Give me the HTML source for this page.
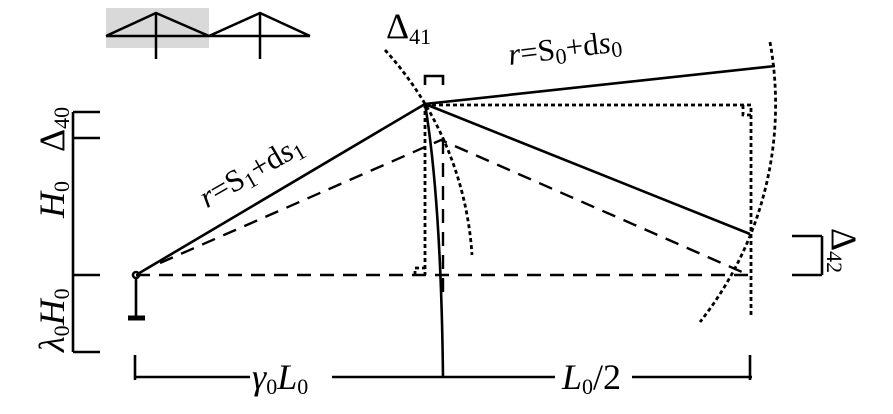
<!DOCTYPE html>
<html><head><meta charset="utf-8"><style>
html,body{margin:0;padding:0;background:#fff;width:893px;height:414px;overflow:hidden}
svg text{font-family:"Liberation Serif",serif;fill:#000}
.b{font-size:36px}
.s{font-size:22px}
.m{font-size:31px}
</style></head><body>
<svg width="893" height="414" viewBox="0 0 893 414" xmlns="http://www.w3.org/2000/svg">
<rect x="106" y="8" width="103" height="40" fill="#d9d9d9"/>
<g stroke="#000" stroke-width="2.5" fill="none">
<path d="M106 36H310M106 36L156 13L209 36L260 13L310 36M156 13V59M260 13V59"/>
</g>
<g stroke="#000" fill="none" stroke-width="2.6">
<path d="M136 275L425 104L775 66M425 104L750 234"/>
<path d="M425 104Q441 200 443 377"/>
<path d="M136 275V318"/>
<circle cx="136" cy="275" r="3" fill="#fff"/>
<path d="M128 318H145" stroke-width="5"/>
</g>
<g stroke="#000" fill="none" stroke-width="2.4" stroke-dasharray="14,9">
<path d="M136 275H750"/>
<path d="M160 263L441 140L742 272"/>
<path d="M443 140V300"/>
</g>
<g stroke="#000" fill="none" stroke-width="2.8" stroke-dasharray="4,3">
<path d="M425 105H751V317"/>
<path d="M743 105V115H751"/>
<path d="M425 104V275M415 275V268H425"/>
<path d="M385 50A336 336 0 0 1 472 255"/>
<path d="M770 42A351 351 0 0 1 700 322"/>
</g>
<g stroke="#000" fill="none" stroke-width="2.6">
<path d="M425 85V76H443V85"/>
<path d="M73 112V352M73 112H100M73 138H100M73 275H100M73 352H100"/>
<path d="M135 355V380M135 377H250M332 377H555M632 377H752M750 355V380"/>
<path d="M822 236V275M792 236H822M792 275H822"/>
</g>
<text x="386" y="38" class="b">Δ<tspan class="s" dy="6">41</tspan></text>
<text transform="translate(566,58) rotate(-7)" class="m" text-anchor="middle"><tspan font-style="italic">r</tspan>=S<tspan class="s" dy="5">0</tspan><tspan dy="-5">+d</tspan><tspan font-style="italic">s</tspan><tspan class="s" dy="5">0</tspan></text>
<text transform="translate(256,180) rotate(-30)" class="m" text-anchor="middle"><tspan font-style="italic">r</tspan>=S<tspan class="s" dy="5">1</tspan><tspan dy="-5">+d</tspan><tspan font-style="italic">s</tspan><tspan class="s" dy="5">1</tspan></text>
<text transform="translate(64,152) rotate(-90)" class="b">Δ<tspan class="s" dy="5">40</tspan></text>
<text transform="translate(64,218) rotate(-90)" class="b" font-style="italic">H<tspan class="s" dy="5" font-style="normal">0</tspan></text>
<text transform="translate(64,352) rotate(-90)" class="b" font-style="italic">λ<tspan class="s" dy="5" font-style="normal">0</tspan><tspan dy="-5">H</tspan><tspan class="s" dy="5" font-style="normal">0</tspan></text>
<text transform="translate(832,228) rotate(90)" class="b">Δ<tspan class="s" dy="5">42</tspan></text>
<text x="252" y="389" class="b" font-style="italic">γ<tspan class="s" dy="5" font-style="normal">0</tspan><tspan dy="-5">L</tspan><tspan class="s" dy="5" font-style="normal">0</tspan></text>
<text x="562" y="389" class="b" font-style="italic">L<tspan class="s" dy="5" font-style="normal">0</tspan><tspan dy="-5" font-style="normal">/2</tspan></text>
</svg>
</body></html>
